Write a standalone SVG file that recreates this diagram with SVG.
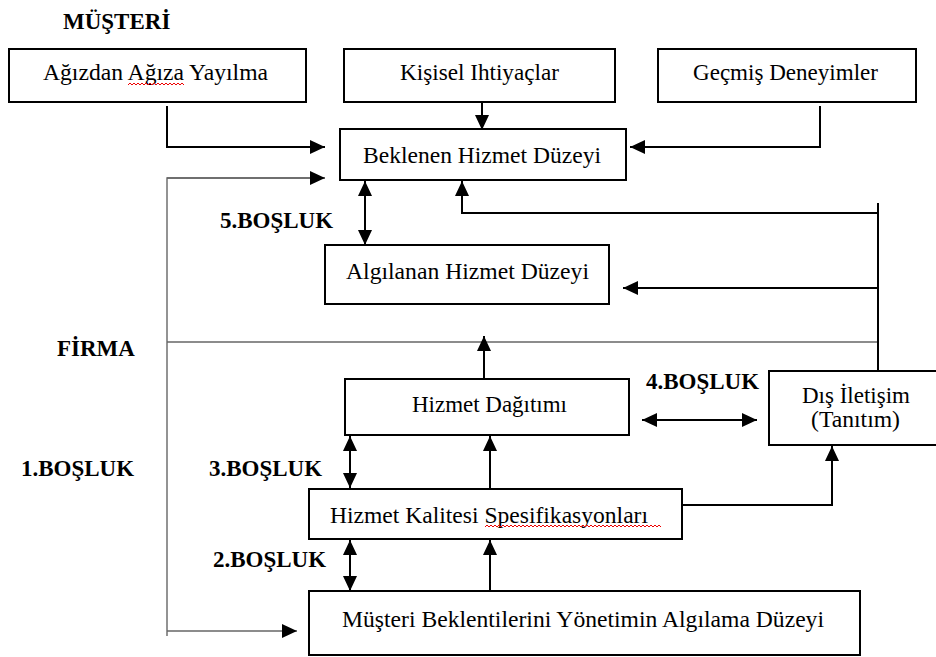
<svg xmlns="http://www.w3.org/2000/svg" width="936" height="657" viewBox="0 0 936 657">
<defs>
<style>
.box{fill:#fff;stroke:#000;stroke-width:2}
.t{font-family:"Liberation Serif","Times New Roman",serif;font-size:23px;fill:#000}
.m{text-anchor:middle}
.b{font-family:"Liberation Serif","Times New Roman",serif;font-size:23px;font-weight:bold;fill:#000}
.c{fill:none;stroke:#000;stroke-width:2}
.g{fill:none;stroke:#666;stroke-width:1.4}
.sq{fill:none;stroke:#e00;stroke-width:1}
</style>
<marker id="ah" markerUnits="userSpaceOnUse" markerWidth="15" markerHeight="14" refX="15" refY="7" orient="auto-start-reverse" viewBox="0 0 15 14">
<path d="M0,0 L15,7 L0,14 z" fill="#000"/>
</marker>
</defs>
<rect width="936" height="657" fill="#fff"/>

<text class="b" x="63" y="29">MÜŞTERİ</text>
<text class="b" x="57" y="356">FİRMA</text>
<text class="b" x="220" y="228">5.BOŞLUK</text>
<text class="b" x="646" y="389">4.BOŞLUK</text>
<text class="b" x="21" y="476">1.BOŞLUK</text>
<text class="b" x="209" y="476">3.BOŞLUK</text>
<text class="b" x="213" y="567">2.BOŞLUK</text>

<g id="connectors">
<line class="g" x1="167" y1="342" x2="878" y2="342"/>
<polyline class="g" points="325,178 167,178 167,636"/>
<line class="g" x1="167" y1="178" x2="325" y2="178" marker-end="url(#ah)"/>
<line class="g" x1="167" y1="631" x2="297" y2="631" marker-end="url(#ah)"/>
<polyline class="c" points="167,106 167,147 325,147" marker-end="url(#ah)"/>
<line class="c" x1="482" y1="102" x2="482" y2="130" marker-end="url(#ah)"/>
<polyline class="c" points="820,106 820,147 630,147" marker-end="url(#ah)"/>
<line class="c" x1="365" y1="181" x2="365" y2="245" marker-start="url(#ah)" marker-end="url(#ah)"/>
<line class="c" x1="878" y1="203" x2="878" y2="371"/>
<polyline class="c" points="878,213 462,213 462,181" marker-end="url(#ah)"/>
<line class="c" x1="878" y1="288" x2="623" y2="288" marker-end="url(#ah)"/>
<line class="c" x1="484" y1="379" x2="484" y2="336" marker-end="url(#ah)"/>
<line class="c" x1="642" y1="420" x2="757" y2="420" marker-start="url(#ah)" marker-end="url(#ah)"/>
<line class="c" x1="350" y1="436" x2="350" y2="488" marker-start="url(#ah)" marker-end="url(#ah)"/>
<line class="c" x1="490" y1="488" x2="490" y2="436" marker-end="url(#ah)"/>
<polyline class="c" points="682,505 832,505 832,446" marker-end="url(#ah)"/>
<line class="c" x1="350" y1="540" x2="350" y2="591" marker-start="url(#ah)" marker-end="url(#ah)"/>
<line class="c" x1="490" y1="591" x2="490" y2="540" marker-end="url(#ah)"/>
</g>

<g id="agizdan">
<rect class="box" x="9" y="49" width="297" height="53"/>
<text class="t" x="43" y="80" textLength="225" lengthAdjust="spacingAndGlyphs">Ağızdan Ağıza Yayılma</text>
<path class="sq" d="M128,85 l2,-2 l2,2 l2,-2 l2,2 l2,-2 l2,2 l2,-2 l2,2 l2,-2 l2,2 l2,-2 l2,2 l2,-2 l2,2 l2,-2 l2,2 l2,-2 l2,2 l2,-2 l2,2 l2,-2 l2,2 l2,-2 l2,2 l2,-2 l2,2 l2,-2 l2,2"/>
</g>
<g id="kisisel">
<rect class="box" x="344" y="49" width="271" height="53"/>
<text class="t" x="400" y="80" textLength="159" lengthAdjust="spacingAndGlyphs">Kişisel Ihtiyaçlar</text>
</g>
<g id="gecmis">
<rect class="box" x="658" y="49" width="258" height="53"/>
<text class="t" x="693" y="80" textLength="185" lengthAdjust="spacingAndGlyphs">Geçmiş Deneyimler</text>
</g>
<g id="beklenen">
<rect class="box" x="340" y="129" width="286" height="51"/>
<text class="t" x="363" y="163" textLength="238" lengthAdjust="spacingAndGlyphs">Beklenen Hizmet Düzeyi</text>
</g>
<g id="algilanan">
<rect class="box" x="325" y="245" width="284" height="59"/>
<text class="t" x="346" y="279" textLength="243" lengthAdjust="spacingAndGlyphs">Algılanan Hizmet Düzeyi</text>
</g>
<g id="dagitim">
<rect class="box" x="345" y="379" width="284" height="56"/>
<text class="t" x="412" y="412" textLength="155" lengthAdjust="spacingAndGlyphs">Hizmet Dağıtımı</text>
</g>
<g id="iletisim">
<rect class="box" x="769" y="371" width="175" height="74"/>
<text class="t" x="802" y="403" textLength="108" lengthAdjust="spacingAndGlyphs">Dış İletişim</text>
<text class="t" x="811" y="427" textLength="89" lengthAdjust="spacingAndGlyphs">(Tanıtım)</text>
</g>
<g id="spesifikasyon">
<rect class="box" x="309" y="489" width="373" height="50"/>
<text class="t" x="330" y="523" textLength="318" lengthAdjust="spacingAndGlyphs">Hizmet Kalitesi Spesifikasyonları</text>
<path class="sq" d="M485,527 l2,-2 l2,2 l2,-2 l2,2 l2,-2 l2,2 l2,-2 l2,2 l2,-2 l2,2 l2,-2 l2,2 l2,-2 l2,2 l2,-2 l2,2 l2,-2 l2,2 l2,-2 l2,2 l2,-2 l2,2 l2,-2 l2,2 l2,-2 l2,2 l2,-2 l2,2 l2,-2 l2,2 l2,-2 l2,2 l2,-2 l2,2 l2,-2 l2,2 l2,-2 l2,2 l2,-2 l2,2 l2,-2 l2,2 l2,-2 l2,2 l2,-2 l2,2 l2,-2 l2,2 l2,-2 l2,2 l2,-2 l2,2 l2,-2 l2,2 l2,-2 l2,2 l2,-2 l2,2 l2,-2 l2,2 l2,-2 l2,2 l2,-2 l2,2 l2,-2 l2,2 l2,-2 l2,2 l2,-2 l2,2 l2,-2 l2,2 l2,-2 l2,2 l2,-2 l2,2 l2,-2 l2,2 l2,-2 l2,2 l2,-2 l2,2 l2,-2 l2,2 l2,-2 l2,2 l2,-2 l2,2"/>
</g>
<g id="musteri">
<rect class="box" x="309" y="591" width="551" height="64"/>
<text class="t" x="342" y="627" textLength="482" lengthAdjust="spacingAndGlyphs">Müşteri Beklentilerini Yönetimin Algılama Düzeyi</text>
</g>
</svg>
